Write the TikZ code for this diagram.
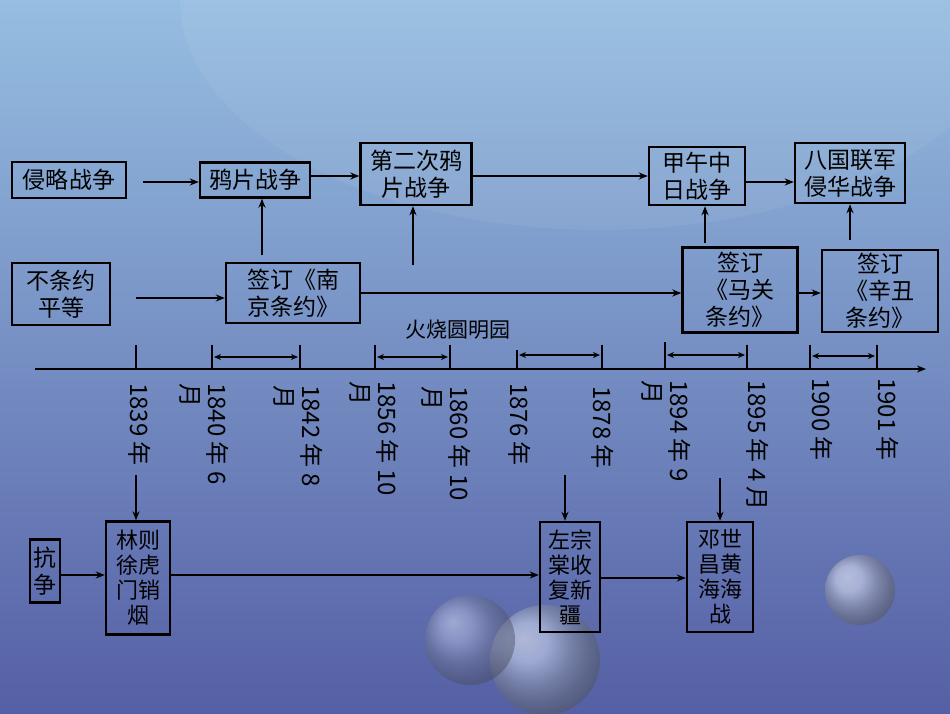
\documentclass[tikz,border=0pt]{standalone}
\usepackage{fontspec}
\setmainfont{Noto Sans CJK SC}
\usetikzlibrary{arrows.meta}
\begin{document}
\begin{tikzpicture}[x=1pt,y=-1pt,
  bx/.style={draw=black,line width=2.4pt,font=\fontsize{23}{27}\selectfont,align=center,inner sep=1pt},
  ar/.style={line width=2.2pt,-{Stealth[length=9pt,width=7pt]}},
  dim/.style={line width=1.8pt,{Stealth[length=7pt,width=6pt]}-{Stealth[length=7pt,width=6pt]}},
  tk/.style={line width=2.2pt},
  dt/.style={rotate=-90,anchor=north west,font=\fontsize{24}{27}\selectfont,align=left,inner sep=0pt}]
\useasboundingbox (0,0) rectangle (950,713);
\shade[top color={rgb,255:red,150;green,190;blue,225},bottom color={rgb,255:red,85;green,95;blue,165}] (0,0) rectangle (950,713);
\fill[white,opacity=0.06] (600,0) ellipse (420 and 230);
\shade[ball color={rgb,255:red,200;green,215;blue,240},opacity=0.55] (545,660) circle (55);
\shade[ball color={rgb,255:red,220;green,225;blue,245},opacity=0.55] (860,590) circle (35);
\shade[ball color={rgb,255:red,170;green,180;blue,220},opacity=0.45] (470,640) circle (45);
% top row
\node[bx,minimum width=114,minimum height=36] (qlzz) at (69,180) {侵略战争};
\node[bx,minimum width=110,minimum height=35] (ypzz) at (255,180) {鸦片战争};
\node[bx,minimum width=111,minimum height=62] (decy) at (416,174) {第二次鸦\\片战争};
\node[bx,minimum width=96,minimum height=58] (jwzr) at (697,176) {甲午中\\日战争};
\node[bx,minimum width=110,minimum height=60] (bglj) at (850,173) {八国联军\\侵华战争};
% treaty row
\node[bx,minimum width=98,minimum height=62] (bty) at (61,294) {不条约\\平等};
\node[bx,minimum width=134,minimum height=60] (nj) at (293,293) {签订《南\\京条约》};
\node[bx,minimum width=115,minimum height=85] (mg) at (740,290) {签订\\《马关\\条约》};
\node[bx,minimum width=116,minimum height=82] (xc) at (880,291) {签订\\《辛丑\\条约》};
\coordinate (s1) at (143,182);
\draw[ar] (s1) -- (ypzz.west |- s1);
\draw[ar] (ypzz.east |- 0,176) -- (decy.west |- 0,176);
\draw[ar] (decy.east |- 0,176) -- (jwzr.west |- 0,176);
\draw[ar] (jwzr.east |- 0,182) -- (bglj.west |- 0,182);
\coordinate (s2) at (136,298);
\draw[ar] (s2) -- (nj.west |- s2);
\draw[ar] (nj.east |- 0,293) -- (mg.west |- 0,293);
\draw[ar] (mg.east |- 0,293) -- (xc.west |- 0,293);
\coordinate (u1) at (262,255);
\coordinate (u2) at (413,265);
\coordinate (u3) at (705,243);
\coordinate (u4) at (850,240);
\draw[ar] (u1) -- (u1 |- ypzz.south);
\draw[ar] (u2) -- (u2 |- decy.south);
\draw[ar] (u3) -- (u3 |- jwzr.south);
\draw[ar] (u4) -- (u4 |- bglj.south);
\node[font=\fontsize{21}{25}\selectfont] (hs) at (458,330) {火烧圆明园};
% axis
\coordinate (a0) at (35,369);
\coordinate (a1) at (926,369);
\draw[line width=2.4pt,-{Stealth[length=9pt,width=7pt]}] (a0) -- (a1);
\foreach \x/\t in {136/345,212/345,300/345,375/345,450/345,517/350,602/345,665/342,747/345,810/345,877/345}
  \draw[tk] (\x,\t) -- (\x,369);
\draw[dim] (214,357) -- (298,357);
\draw[dim] (377,357) -- (448,357);
\draw[dim] (519,355) -- (600,355);
\draw[dim] (667,355) -- (745,355);
\draw[dim] (812,356) -- (875,356);
\node[dt] (d1) at (151,383) {1839 年};
\node[dt] (d2) at (229,383) {1840 年 6\\月};
\node[dt] (d3) at (323,385) {1842 年 8\\月};
\node[dt] (d4) at (399,381) {1856 年 10\\月};
\node[dt] (d5) at (471,386) {1860 年 10\\月};
\node[dt] (d6) at (531,383) {1876 年};
\node[dt] (d7) at (614,386) {1878 年};
\node[dt] (d8) at (691,380) {1894 年 9\\月};
\node[dt] (d9) at (769,380) {1895 年 4 月};
\node[dt] (d10) at (833,378) {1900 年};
\node[dt] (d11) at (899,378) {1901 年};
% bottom
\node[bx,minimum width=30,minimum height=63] (kz) at (45,571) {抗\\争};
\node[bx,minimum width=64,minimum height=113,font=\fontsize{22}{25}\selectfont] (lzx) at (138,578) {林则\\徐虎\\门销\\烟};
\node[bx,minimum width=60,minimum height=110,font=\fontsize{22}{25}\selectfont] (zzt) at (570,577) {左宗\\棠收\\复新\\疆};
\node[bx,minimum width=66,minimum height=110,font=\fontsize{22}{25}\selectfont] (dsc) at (720,577) {邓世\\昌黄\\海海\\战};
\coordinate (b1) at (136,475);
\coordinate (b2) at (565,475);
\coordinate (b3) at (720,478);
\draw[ar] (kz.east |- 0,575) -- (lzx.west |- 0,575);
\draw[ar] (lzx.east |- 0,575) -- (zzt.west |- 0,575);
\draw[ar] (zzt.east |- 0,578) -- (dsc.west |- 0,578);
\draw[ar] (b1) -- (b1 |- lzx.north);
\draw[ar] (b2) -- (b2 |- zzt.north);
\draw[ar] (b3) -- (b3 |- dsc.north);
\end{tikzpicture}
\end{document}
